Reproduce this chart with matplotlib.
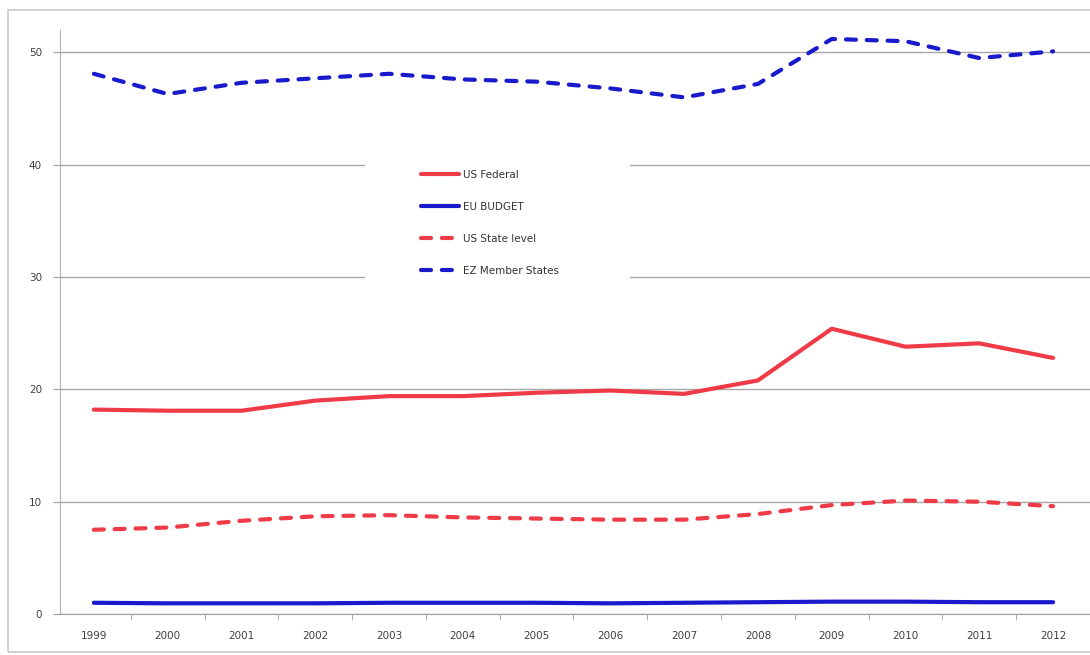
import matplotlib
matplotlib.use("Agg")
import matplotlib.pyplot as plt
from matplotlib.patches import Rectangle
from matplotlib.lines import Line2D

years = ["1999", "2000", "2001", "2002", "2003", "2004", "2005",
         "2006", "2007", "2008", "2009", "2010", "2011", "2012"]
us_federal = [18.2, 18.1, 18.1, 19.0, 19.4, 19.4, 19.7, 19.9, 19.6, 20.8, 25.4, 23.8, 24.1, 22.8]
eu_budget = [1.0, 0.95, 0.95, 0.95, 1.0, 1.0, 1.0, 0.95, 1.0, 1.05, 1.1, 1.1, 1.05, 1.05]
us_state = [7.5, 7.7, 8.3, 8.7, 8.8, 8.6, 8.5, 8.4, 8.4, 8.9, 9.7, 10.1, 10.0, 9.6]
ez_member = [48.1, 46.3, 47.3, 47.7, 48.1, 47.6, 47.4, 46.8, 46.0, 47.2, 51.2, 51.0, 49.5, 50.1]
labels = ["US Federal", "EU BUDGET", "US State level", "EZ Member States"]

W, H = 1090, 655
fig = plt.figure(figsize=(W / 100, H / 100), dpi=100)
fig.patch.set_facecolor("white")

# outer chart border
fig.add_artist(Rectangle((8 / W, 3 / H), 1.2, (645 - 3) / H, transform=fig.transFigure,
                         fill=False, edgecolor="#c8c8c8", linewidth=1.2))

ax = fig.add_axes([60 / W, (H - 614) / H, (W - 60) / W, (614 - 30) / H])
red = "#ef3b47"
blue = "#1a1acd"
x = list(range(len(years)))
lw = 3.0
kw = dict(linewidth=lw, solid_capstyle="round", dash_capstyle="round")
ax.plot(x, us_federal, color=red, **kw)
ax.plot(x, eu_budget, color=blue, **kw)
ax.plot(x, us_state, color=red, dashes=(2.4, 2.6), **kw)
ax.plot(x, ez_member, color=blue, dashes=(2.4, 2.6), **kw)

xl = -34 / 74.08
xr = 13 + 33 / 74.08
ax.set_xlim(xl, xr)
ax.set_ylim(0, 52)

ax.set_yticks([0, 10, 20, 30, 40, 50])
ax.set_xticks(x)
ax.set_xticklabels(years)
ax.set_xticks([i - 0.5 for i in range(1, 15)], minor=True)
ax.tick_params(axis="x", which="major", length=0, pad=12, labelsize=7.5, labelcolor="#404040")
ax.tick_params(axis="x", which="minor", length=4, color="#a0a0a0", direction="out")
ax.tick_params(axis="y", length=5, color="#a0a0a0", labelsize=7.5, labelcolor="#404040", pad=8)

ax.grid(axis="y", color="#a8a8a8", linewidth=1.0)
ax.set_axisbelow(True)
for s in ["top", "right"]:
    ax.spines[s].set_visible(False)
ax.spines["left"].set_color("#b0b0b0")
ax.spines["bottom"].set_color("#a0a0a0")

# legend background box
fig.add_artist(Rectangle((365 / W, 1 - 285 / H), (630 - 365) / W, (285 - 150) / H,
                         transform=fig.transFigure, facecolor="white",
                         edgecolor="none", zorder=2))

handles = [
    Line2D([], [], color=red, **kw),
    Line2D([], [], color=blue, **kw),
    Line2D([], [], color=red, dashes=(2.4, 2.6), **kw),
    Line2D([], [], color=blue, dashes=(2.4, 2.6), **kw),
]
leg = fig.legend(handles, labels, loc="upper left",
                 bbox_to_anchor=(421 / W, 1 - 170 / H),
                 frameon=False, fontsize=7.5, handlelength=3.6, handletextpad=0.4,
                 labelspacing=2.1, borderpad=0, borderaxespad=0)
leg.set_zorder(3)
for t in leg.get_texts():
    t.set_color("#333333")

fig.savefig("out.png", dpi=100, facecolor="white")
